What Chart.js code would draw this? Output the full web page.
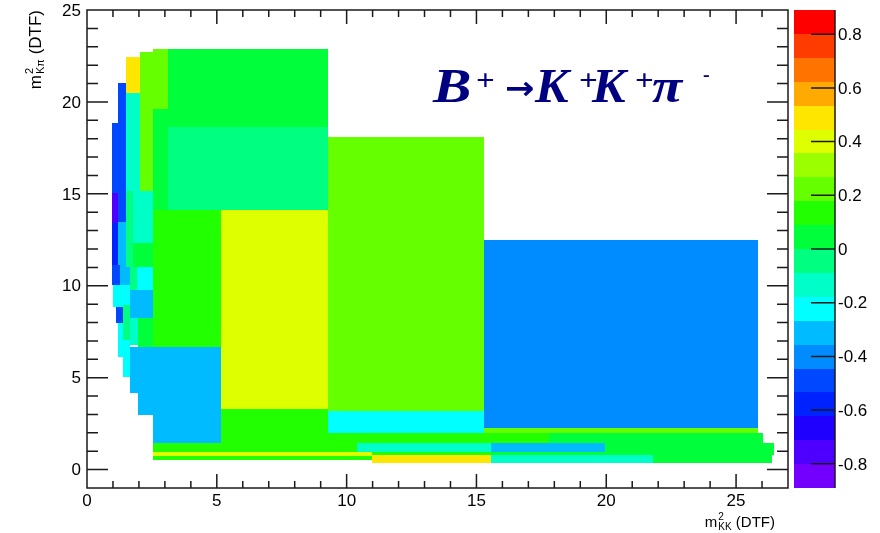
<!DOCTYPE html>
<html><head><meta charset="utf-8">
<script src="https://cdn.jsdelivr.net/npm/chart.js@4/dist/chart.umd.min.js"></script>
<style>html,body{margin:0;padding:0;background:#fff;}</style>
</head><body>
<canvas id="c" width="880" height="533"></canvas>
<script>
// ---- data: variable-size bins of the 2D histogram (m2_KK, m2_Kpi) -> value ----
const cellX0 = [3.12,3.12,2.54,2.54,2.04,1.50,1.50,1.20,0.96,0.96,0.96,1.20,1.50,1.77,1.77,0.96,1.27,1.66,1.93,1.66,1.00,1.12,1.39,1.20,1.39,1.66,1.97,1.66,1.97,2.54,2.54,5.16,5.16,9.29,9.29,15.30,15.30,9.29,17.80,2.54,10.40,15.57,19.96,2.54,2.54,10.98,10.98,15.57,15.57,21.81];
const cellX1 = [9.29,9.29,3.12,3.12,2.54,2.04,2.04,1.50,1.20,1.20,1.20,1.50,1.77,2.54,2.54,1.27,1.66,1.93,2.54,2.54,1.66,1.39,1.66,1.39,1.66,1.97,2.54,5.16,5.16,5.16,5.16,9.29,9.29,15.30,15.30,25.86,25.86,17.80,26.05,10.40,15.57,19.96,26.47,10.98,10.98,15.57,15.57,26.47,21.81,26.40];
const cellY0 = [18.64,14.13,19.62,14.13,15.16,20.49,15.16,13.48,15.05,13.42,11.14,11.03,11.03,12.34,11.03,10.05,10.05,9.78,9.78,8.26,8.86,7.99,7.07,6.14,5.05,6.79,6.63,4.18,2.99,1.47,6.68,3.32,1.47,3.21,2.01,2.28,2.01,1.47,1.47,0.98,0.98,0.98,0.98,0.76,0.54,0.82,0.38,0.82,0.38,0.38];
const cellY1 = [22.88,18.64,22.88,19.62,22.72,22.45,20.49,21.03,18.86,15.05,13.42,13.48,15.16,15.16,12.34,11.14,11.03,11.03,11.03,9.78,10.05,8.86,8.97,7.99,7.07,8.26,8.26,6.68,4.18,2.99,14.13,14.13,3.32,18.10,3.21,12.50,2.28,2.01,2.01,1.47,1.47,1.47,1.47,0.98,0.76,0.98,0.82,0.98,0.82,0.82];
const cellZ  = [0.05,-0.04,0.22,0.05,0.22,0.49,-0.13,-0.49,-0.49,-0.76,-0.58,-0.31,-0.04,-0.13,0.05,-0.49,-0.31,-0.04,-0.22,-0.31,-0.22,-0.49,-0.04,-0.22,-0.22,-0.13,0.05,-0.31,-0.31,-0.31,0.13,0.40,0.13,0.22,-0.22,-0.40,0.22,0.10,0.05,0.13,-0.13,-0.31,0.05,0.40,0.13,0.13,0.49,0.05,-0.13,0.02];
const xTickValues = [0,5,10,15,20,25];
const yTickValues = [0,5,10,15,20,25];
const zTickValues = [-0.8,-0.6,-0.4,-0.2,0,0.2,0.4,0.6,0.8];
const zMin = -0.89, zMax = 0.89, nLevels = 20;

// ---- style ----
const palette = ['#7300ff','#4d00ff','#1f00ff','#0022ff','#0048ff','#008cff','#00bbff','#00ffff','#00ffc8','#00ff80',
                 '#00ff3a','#22ff00','#66ff00','#9cff00','#ddff00','#ffe600','#ffaa00','#ff7300','#ff3c00','#ff0000'];
const FONT = '"Liberation Sans", Arial, sans-serif';
function colorFor(z){
  let j = Math.floor((z - zMin) / (zMax - zMin) * nLevels);
  j = Math.max(0, Math.min(nLevels - 1, j));
  return palette[j];
}
function fmtZ(v){ return Math.abs(v) < 1e-9 ? '0' : Number(v).toFixed(1); }

const histPlugin = {
  id: 'hist2d',
  beforeDatasetsDraw(chart){
    const {ctx, chartArea: a, scales: {x, y}} = chart;
    ctx.save();
    ctx.beginPath(); ctx.rect(a.left, a.top, a.right - a.left, a.bottom - a.top); ctx.clip();
    for (let i = 0; i < cellZ.length; i++){
      const px0 = Math.round(x.getPixelForValue(cellX0[i])), px1 = Math.round(x.getPixelForValue(cellX1[i]));
      const py0 = Math.round(y.getPixelForValue(cellY1[i])), py1 = Math.round(y.getPixelForValue(cellY0[i]));
      ctx.fillStyle = colorFor(cellZ[i]);
      ctx.fillRect(px0, py0, px1 - px0, py1 - py0);
    }
    ctx.restore();
    // frame and inner ticks
    ctx.save();
    ctx.strokeStyle = '#1a1a1a'; ctx.lineWidth = 1.5;
    ctx.strokeRect(a.left, a.top, a.right - a.left, a.bottom - a.top);
    ctx.beginPath();
    for (let v = Math.ceil(x.min); v <= x.max; v++){
      if (v === x.min || v === x.max) continue;
      const p = x.getPixelForValue(v), len = (v % 5 === 0) ? 14 : 7;
      ctx.moveTo(p, a.bottom); ctx.lineTo(p, a.bottom - len);
      ctx.moveTo(p, a.top); ctx.lineTo(p, a.top + len);
    }
    for (let v = Math.ceil(y.min); v <= y.max; v++){
      if (v === y.min || v === y.max) continue;
      const p = y.getPixelForValue(v), len = (v % 5 === 0) ? 21 : 11;
      ctx.moveTo(a.left, p); ctx.lineTo(a.left + len, p);
      ctx.moveTo(a.right, p); ctx.lineTo(a.right - len, p);
    }
    ctx.stroke();
    ctx.restore();
  },
  afterDraw(chart){
    const {ctx, chartArea: a, scales: {y, z}} = chart;
    ctx.save();
    // y tick labels
    ctx.fillStyle = '#000'; ctx.font = '17px ' + FONT;
    ctx.textAlign = 'right'; ctx.textBaseline = 'middle';
    yTickValues.forEach(v => ctx.fillText(String(v), a.left - 6, y.getPixelForValue(v) + 1));
    // colour bar
    const bx0 = a.right + 6, bx1 = a.right + 47;
    const dz = (zMax - zMin) / nLevels;
    for (let j = 0; j < nLevels; j++){
      const yTop = z.getPixelForValue(zMin + (j + 1) * dz), yBot = z.getPixelForValue(zMin + j * dz);
      ctx.fillStyle = palette[j];
      ctx.fillRect(bx0, Math.round(yTop), bx1 - bx0, Math.round(yBot) - Math.round(yTop));
    }
    ctx.strokeStyle = '#1a1a1a'; ctx.lineWidth = 1.5;
    ctx.beginPath();
    ctx.moveTo(bx1, z.getPixelForValue(zMax)); ctx.lineTo(bx1, z.getPixelForValue(zMin));
    zTickValues.forEach(v => { const p = z.getPixelForValue(v); ctx.moveTo(bx1, p); ctx.lineTo(bx1 - 24, p); });
    ctx.stroke();
    ctx.fillStyle = '#000'; ctx.textAlign = 'left';
    zTickValues.forEach(v => ctx.fillText(fmtZ(v), bx1 + 3, z.getPixelForValue(v) + 1));

    ctx.textAlign = 'left'; ctx.textBaseline = 'alphabetic';
    // x title: m^2_KK (DTF), right aligned near frame right
    {
      ctx.font = '15px ' + FONT; const wm = ctx.measureText('m').width; const wd = ctx.measureText(' (DTF)').width;
      ctx.font = '10px ' + FONT; const ws = ctx.measureText('KK').width;
      const total = wm + 1 + ws + wd;
      const x0 = a.right - 13 - total, base = 527;
      ctx.font = '15px ' + FONT; ctx.fillText('m', x0, base);
      ctx.font = '10px ' + FONT; ctx.fillText('2', x0 + wm + 1, base - 7); ctx.fillText('KK', x0 + wm + 1, base + 3);
      ctx.font = '15px ' + FONT; ctx.fillText(' (DTF)', x0 + wm + 1 + ws, base);
    }
    // y title: m^2_Kpi (DTF), rotated, right aligned at frame top
    {
      ctx.font = '17px ' + FONT; const wm = ctx.measureText('m').width; const wd = ctx.measureText(' (DTF)').width;
      ctx.font = '11px ' + FONT; const ws = ctx.measureText('K\u03c0').width;
      const total = wm + 1 + ws + wd;
      ctx.translate(41, a.top + total);
      ctx.rotate(-Math.PI / 2);
      ctx.font = '17px ' + FONT; ctx.fillText('m', 0, 0);
      ctx.font = '11px ' + FONT; ctx.fillText('2', wm + 1, -8); ctx.fillText('K\u03c0', wm + 1, 3);
      ctx.font = '17px ' + FONT; ctx.fillText(' (DTF)', wm + 1 + ws, 0);
      ctx.setTransform(1, 0, 0, 1, 0, 0);
    }
    // decay label
    ctx.fillStyle = '#000080';
    const big = 'italic bold 48px "Liberation Serif", serif';
    const sup = 'bold 30px "Liberation Serif", serif';
    function piece(t, font, x0, base, sx){
      ctx.save(); ctx.font = font; ctx.translate(x0, base); ctx.scale(sx, 1); ctx.fillText(t, 0, 0); ctx.restore();
    }
    piece('B', big, 433, 102, 1.2);
    piece('+', sup, 476, 90, 1.1);
    piece('\u2192', 'bold 32px "DejaVu Sans", sans-serif', 505, 99, 1.1);
    piece('K', big, 535, 102, 1.05);
    piece('+', sup, 579, 90, 1.1);
    piece('K', big, 592, 102, 1.05);
    piece('+', sup, 635, 90, 1.1);
    piece('\u03c0', big, 652, 102, 1.15);
    piece('-', 'bold 20px "Liberation Serif", serif', 703, 81, 1.0);
    ctx.restore();
  }
};

const tickFont = {family: FONT, size: 17};
new Chart(document.getElementById('c'), {
  type: 'scatter',
  data: {datasets: [{data: [], pointRadius: 0}]},
  options: {
    responsive: false, animation: false, devicePixelRatio: 1,
    layout: {padding: {top: 10, left: 0, right: 0, bottom: 0}},
    plugins: {legend: {display: false}, tooltip: {enabled: false}},
    scales: {
      x: {type: 'linear', position: 'bottom', min: 0, max: 27,
          grid: {display: false, drawTicks: false}, border: {display: false},
          afterBuildTicks: s => { s.ticks = xTickValues.map(v => ({value: v})); },
          afterFit: s => { s.height = 45; },
          ticks: {font: tickFont, color: '#000', padding: 3, maxRotation: 0, autoSkip: false, callback: v => String(v)}},
      y: {type: 'linear', position: 'left', min: -1, max: 25,
          grid: {display: false, drawTicks: false}, border: {display: false},
          afterBuildTicks: s => { s.ticks = yTickValues.map(v => ({value: v})); },
          afterFit: s => { s.width = 87; },
          ticks: {display: false}},
      z: {type: 'linear', position: 'right', display: true, min: zMin, max: zMax,
          grid: {display: false, drawTicks: false}, border: {display: false},
          afterBuildTicks: s => { s.ticks = zTickValues.map(v => ({value: v})); },
          afterFit: s => { s.width = 92; },
          ticks: {display: false}}
    }
  },
  plugins: [histPlugin]
});
</script>
</body></html>
